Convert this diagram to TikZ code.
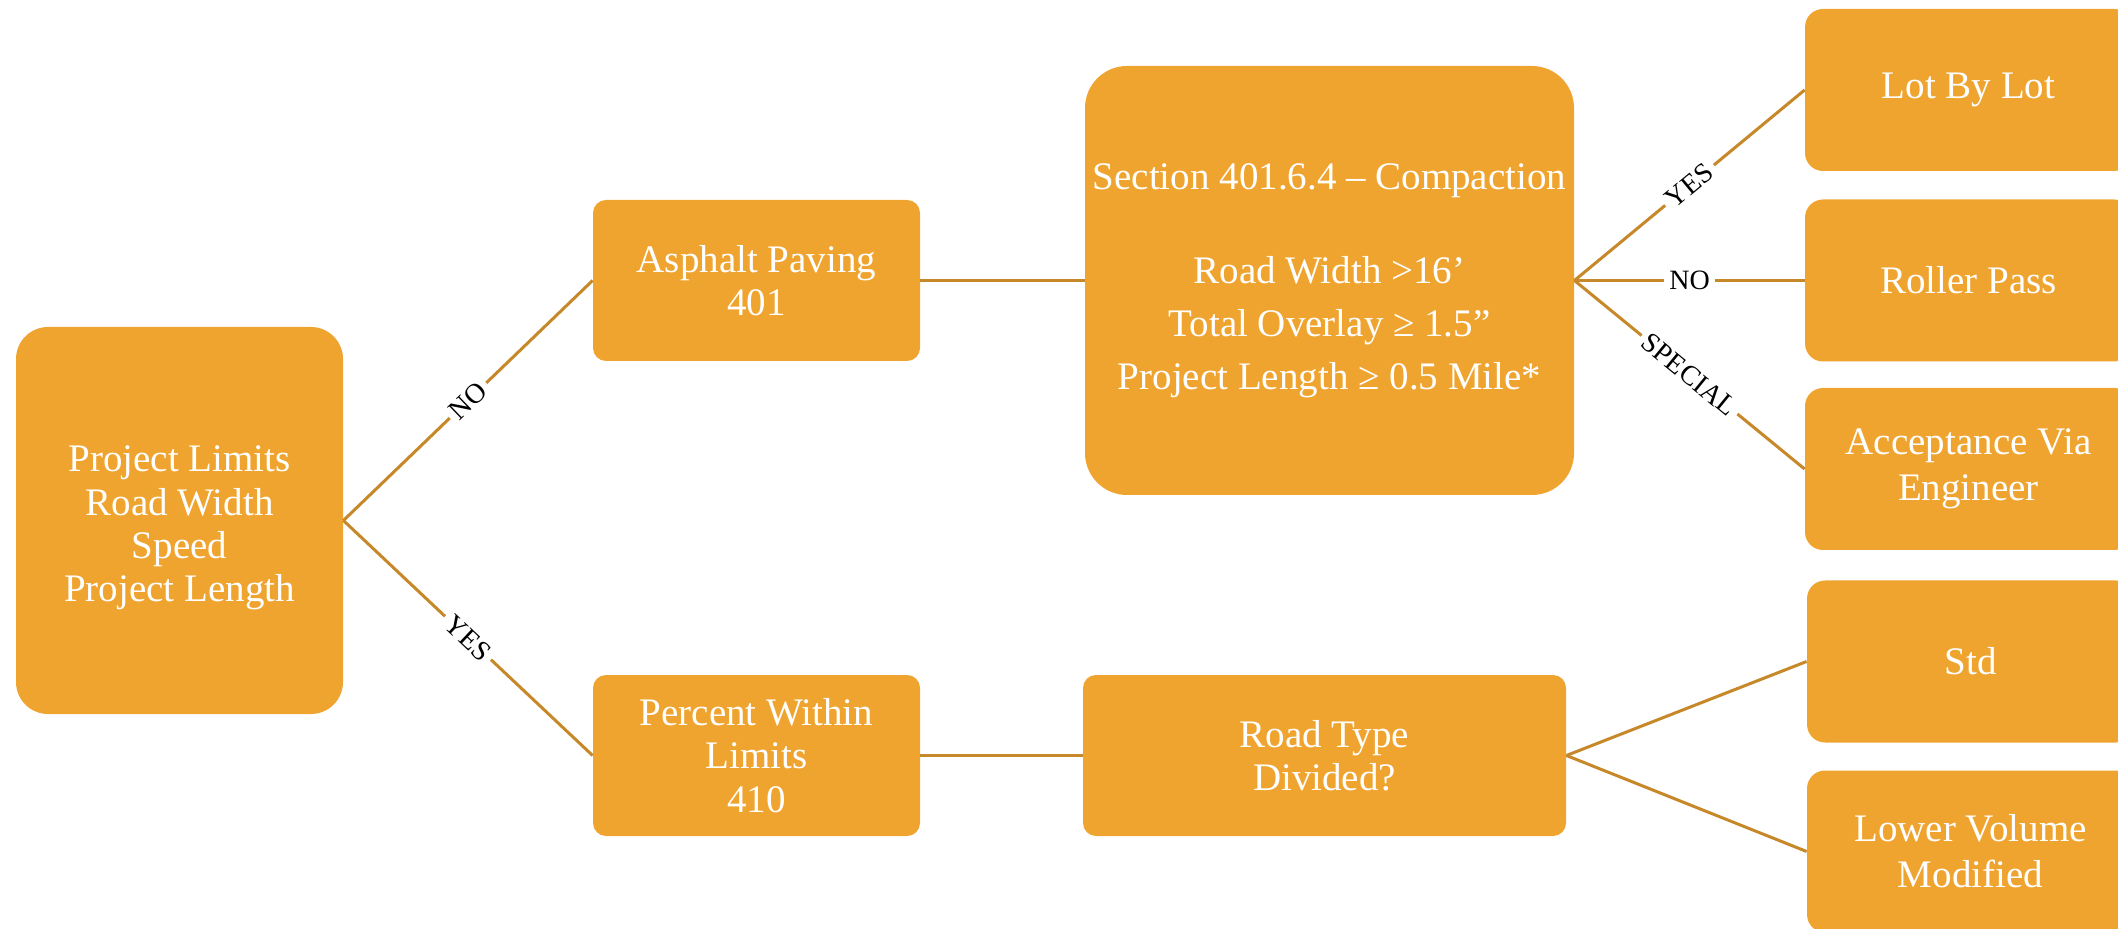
\documentclass[tikz,border=0pt]{standalone}
\usepackage{fontspec}
\setmainfont{Liberation Serif}
\definecolor{boxfill}{RGB}{239,164,48}
\definecolor{linkline}{RGB}{198,136,40}
\begin{document}
\begin{tikzpicture}[x=0.5pt,y=-0.5pt,
  box/.style={fill=boxfill, draw=none, text=white, align=center, inner sep=0pt,
    font=\fontsize{19.5}{21.7}\selectfont, rounded corners=#1},
  box/.default=6.5pt,
  side/.style={box=9pt, minimum width=163.5pt, minimum height=81pt,
    font=\fontsize{19.5}{23}\selectfont},
  link/.style={draw=linkline, line width=1.5pt},
  lbl/.style={fill=white, text=black, inner sep=2.5pt, sloped, midway,
    font=\fontsize{14}{14}\selectfont}]
\useasboundingbox (0,0) rectangle (2118,929);
\begin{scope}
\clip (0,0) rectangle (2118,929);

% root and second column
\node[box=16pt, minimum width=163.5pt, minimum height=193.5pt] (root) at (179.5,520.5) {};
\node[box, font=\fontsize{19.5}{21.7}\selectfont] (roottext) at (179.5,528)
  {Project Limits\\Road Width\\Speed\\Project Length};
\node[box, minimum width=163.5pt, minimum height=80.5pt] (asphalt) at (756.5,280.5)
  {Asphalt Paving\\401};
\node[box, minimum width=163.5pt, minimum height=80.5pt] (pwl) at (756.5,755.5)
  {Percent Within\\Limits\\410};

% third column
\node[box=21pt, minimum width=244.5pt, minimum height=214.5pt,
  font=\fontsize{19.5}{26.5}\selectfont] (section) at (1329.5,280.5)
  {Section 401.6.4 – Compaction\\[20.5pt]
   Road Width >16’\\Total Overlay ≥ 1.5”\\Project Length ≥ 0.5 Mile*};
\node[box, minimum width=241.5pt, minimum height=80.5pt] (roadtype) at (1324.5,755.5)
  {Road Type\\Divided?};

% outcomes
\node[side] (lot) at (1968.5,90) {Lot By Lot};
\node[side] (roller) at (1968.5,280.5) {Roller Pass};
\node[side] (accept) at (1968.5,469) {Acceptance Via\\Engineer};
\node[side] (std) at (1970.5,661.5) {Std};
\node[side] (lower) at (1970.5,851.5) {Lower Volume\\Modified};

% connectors
\draw[link] (root.east) -- node[lbl] {NO} (asphalt.west);
\draw[link] (root.east) -- node[lbl] {YES} (pwl.west);
\draw[link] (asphalt.east) -- (section.west);
\draw[link] (pwl.east) -- (roadtype.west);
\draw[link] (section.east) -- node[lbl] {YES} (lot.west);
\draw[link] (section.east) -- node[lbl] {NO} (roller.west);
\draw[link] (section.east) -- node[lbl] {SPECIAL} (accept.west);
\draw[link] (roadtype.east) -- (std.west);
\draw[link] (roadtype.east) -- (lower.west);
\end{scope}
\end{tikzpicture}
\end{document}
